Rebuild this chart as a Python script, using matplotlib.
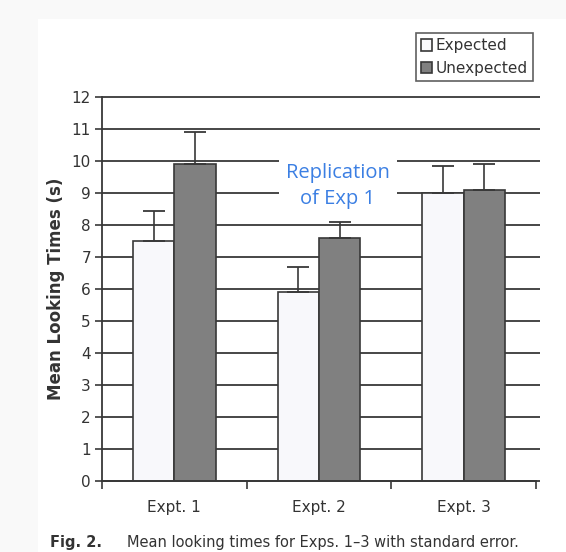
import matplotlib
matplotlib.use("Agg")
import matplotlib.pyplot as plt
from matplotlib.patches import Rectangle, Patch
import numpy as np

categories = ["Expt. 1", "Expt. 2", "Expt. 3"]
expected = [7.5, 5.9, 9.0]
unexpected = [9.9, 7.6, 9.1]
expected_se = [0.95, 0.8, 0.85]
unexpected_se = [1.0, 0.5, 0.8]
series_labels = ["Expected", "Unexpected"]

W, H = 566, 552
fig = plt.figure(figsize=(W / 100, H / 100), dpi=100)
fig.patch.set_facecolor("#f9f9f9")
fig.patches.append(Rectangle((38 / W, 0), 1 - 38 / W, 1 - 19 / H,
                             transform=fig.transFigure, facecolor="white",
                             edgecolor="none", zorder=-10))

ax = fig.add_axes([102 / W, 1 - 481 / H, (536 - 102) / W, (481 - 97) / H])
ax.set_zorder(5)
ax.set_facecolor("none")
dark = "#383838"

x = np.arange(len(categories))
bw = 0.285
for yv in range(0, 13):
    ax.hlines(yv, -0.5, 2.53, color=dark, lw=1.3, zorder=1, clip_on=False)

ax.bar(x - bw / 2, expected, bw, color="#f8f8fb", edgecolor=dark, lw=1.2, zorder=2)
ax.bar(x + bw / 2, unexpected, bw, color="#808080", edgecolor=dark, lw=1.2, zorder=2)
ax.errorbar(x - bw / 2, expected, yerr=[np.zeros(3), expected_se], fmt="none",
            ecolor=dark, elinewidth=1.2, capsize=8, capthick=1.3, zorder=3)
ax.errorbar(x + bw / 2, unexpected, yerr=[np.zeros(3), unexpected_se], fmt="none",
            ecolor=dark, elinewidth=1.2, capsize=8, capthick=1.3, zorder=3)

ax.set_xlim(-0.5, 2.5)
ax.set_ylim(0, 12)
ax.set_yticks(range(0, 13))
ax.tick_params(axis="y", direction="out", length=5, width=1.2, color=dark,
               labelsize=11, labelcolor="#333333", pad=3)
ax.set_xticks(x)
ax.set_xticklabels(categories, fontsize=11, color="#333333")
ax.tick_params(axis="x", which="major", length=0, pad=14)
ax.set_xticks([-0.5, 0.5, 1.5, 2.5], minor=True)
ax.tick_params(axis="x", which="minor", direction="out", length=6, width=1.2, color=dark)
for s in ["top", "right"]:
    ax.spines[s].set_visible(False)
ax.spines["left"].set_color(dark)
ax.spines["left"].set_linewidth(1.3)
ax.spines["bottom"].set_color(dark)
ax.spines["bottom"].set_linewidth(1.3)
ax.set_ylabel("Mean Looking Times (s)", fontsize=12, fontweight="bold",
              color="#333333", labelpad=5)

ax.text(1.13, 9.22, "Replication\nof Exp 1", color="#3b7fe3", fontsize=14.5,
        family="Open Sans", ha="center", va="center", linespacing=1.35,
        zorder=4, bbox=dict(facecolor="white", edgecolor="none", pad=5))

handles = [Patch(facecolor="#f8f8fb", edgecolor=dark, lw=1.2),
           Patch(facecolor="#808080", edgecolor=dark, lw=1.2)]
leg = fig.legend(handles, series_labels, loc="upper right",
                 bbox_to_anchor=(533 / W, 1 - 33 / H), fontsize=11,
                 frameon=True, fancybox=False, edgecolor=dark,
                 handlelength=0.75, handleheight=0.75, handletextpad=0.2,
                 borderpad=0.35, labelspacing=0.5, borderaxespad=0)
leg.get_frame().set_linewidth(1.2)
for t in leg.get_texts():
    t.set_color("#333333")

fig.text(50 / W, 1 - 542 / H, "Fig. 2.", fontsize=10.5, fontweight="bold",
         color="#333333", va="center", ha="left")
fig.text(127 / W, 1 - 542 / H,
         "Mean looking times for Exps. 1\u20133 with standard error.",
         fontsize=10.5, color="#333333", va="center", ha="left")

fig.savefig("out.png", dpi=100, facecolor=fig.get_facecolor())
